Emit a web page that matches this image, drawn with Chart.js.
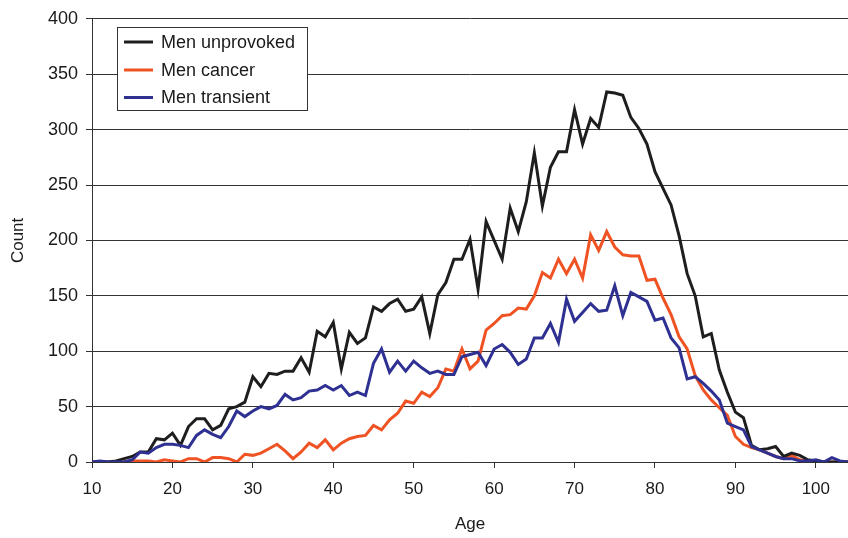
<!DOCTYPE html>
<html>
<head>
<meta charset="utf-8">
<script src="https://cdn.jsdelivr.net/npm/chart.js@4.4.1/dist/chart.umd.min.js"></script>
<style>
  html, body { margin: 0; padding: 0; background: #ffffff; }
  #wrap { width: 848px; height: 538px; position: relative; }
</style>
</head>
<body>
<div id="wrap"><canvas id="c" width="848" height="538"></canvas></div>
<script>
// Ages 10..104
const ages = [];
for (let a = 10; a <= 104; a++) ages.push(a);

const seriesNames = ['Men unprovoked', 'Men cancer', 'Men transient'];

const menUnprovoked = [
  0, 0, 0, 1, 3, 5, 9, 9, 21, 20,
  26, 15, 32, 39, 39, 29, 33, 48, 50, 54,
  77, 68, 80, 79, 82, 82, 94, 81, 118, 113,
  126, 84, 117, 107, 112, 140, 136, 143, 147, 136,
  138, 149, 116, 151, 162, 183, 183, 201, 156, 217,
  200, 183, 229, 208, 235, 279, 231, 266, 280, 280,
  318, 287, 310, 302, 334, 333, 331, 311, 301, 287,
  262, 247, 232, 204, 170, 150, 113, 116, 83, 63,
  45, 40, 15, 11, 12, 14, 5, 8, 6, 2,
  1, 0, 0, 0, 0
];

const menCancer = [
  0, 0, 0, 0, 0, 1, 1, 1, 0, 2,
  1, 0, 3, 3, 0, 4, 4, 3, 0, 7,
  6, 8, 12, 16, 10, 3, 9, 17, 13, 20,
  11, 17, 21, 23, 24, 33, 29, 38, 44, 55,
  53, 63, 59, 67, 84, 82, 102, 84, 91, 119,
  125, 132, 133, 139, 138, 150, 171, 166, 183, 170,
  183, 166, 205, 191, 208, 194, 187, 186, 186, 164,
  165, 148, 133, 113, 102, 78, 65, 56, 49, 42,
  23, 16, 13, 11, 8, 5, 3, 6, 2, 0,
  1, 0, 0, 0, 0
];

const menTransient = [
  0, 1, 0, 0, 0, 2, 9, 8, 13, 16,
  16, 15, 13, 24, 29, 25, 22, 32, 46, 41,
  46, 50, 48, 51, 61, 56, 58, 64, 65, 69,
  65, 69, 60, 63, 60, 89, 102, 81, 91, 82,
  91, 85, 80, 82, 79, 79, 95, 97, 99, 87,
  102, 106, 99, 88, 93, 112, 112, 125, 108, 147,
  127, 135, 143, 136, 137, 159, 132, 153, 149, 145,
  128, 130, 112, 103, 75, 77, 71, 64, 56, 35,
  32, 29, 14, 11, 8, 5, 3, 3, 1, 1,
  2, 0, 4, 1, 0
];

const xTickValues = [10, 20, 30, 40, 50, 60, 70, 80, 90, 100];
const yTickValues = [0, 50, 100, 150, 200, 250, 300, 350, 400];

const colors = ['#1e1e1e', '#f05323', '#2e3192'];
const FONT = "'Liberation Sans', Arial, Helvetica, sans-serif";
const AXIS = '#333333';

function toPoints(vals) { return ages.map((a, i) => ({ x: a, y: vals[i] })); }

const legendPlugin = {
  id: 'boxLegend',
  afterDatasetsDraw(chart) {
    const ctx = chart.ctx;
    ctx.save();
    const bx = 117.5, by = 27.5, bw = 190, bh = 83;
    ctx.fillStyle = '#ffffff';
    ctx.fillRect(bx, by, bw, bh);
    ctx.strokeStyle = AXIS;
    ctx.lineWidth = 1;
    ctx.strokeRect(bx, by, bw, bh);
    const rows = [42, 70, 97.5];
    ctx.font = '18px ' + FONT;
    ctx.textBaseline = 'middle';
    ctx.textAlign = 'left';
    seriesNames.forEach((name, i) => {
      ctx.strokeStyle = colors[i];
      ctx.lineWidth = 3;
      ctx.beginPath();
      ctx.moveTo(124, rows[i]);
      ctx.lineTo(153, rows[i]);
      ctx.stroke();
      ctx.fillStyle = '#1a1a1a';
      ctx.fillText(name, 161, rows[i] + 1);
    });
    ctx.restore();
  }
};

new Chart(document.getElementById('c'), {
  type: 'line',
  data: {
    datasets: [
      { label: seriesNames[0], data: toPoints(menUnprovoked), borderColor: colors[0], order: 1 },
      { label: seriesNames[1], data: toPoints(menCancer), borderColor: colors[1], order: 2 },
      { label: seriesNames[2], data: toPoints(menTransient), borderColor: colors[2], order: 0 }
    ]
  },
  options: {
    responsive: false,
    animation: false,
    devicePixelRatio: 1,
    layout: { padding: { top: 16, right: 0, left: 0, bottom: 0 } },
    elements: {
      point: { radius: 0 },
      line: { borderWidth: 3, tension: 0, fill: false, borderJoinStyle: 'miter', borderCapStyle: 'butt' }
    },
    plugins: { legend: { display: false }, tooltip: { enabled: false } },
    scales: {
      x: {
        type: 'linear',
        min: 10,
        max: 104,
        afterBuildTicks: (s) => { s.ticks = xTickValues.map(v => ({ value: v })); },
        afterFit: (s) => { s.height = 76; },
        grid: { drawOnChartArea: false, drawTicks: true, tickLength: 6, color: AXIS, lineWidth: 1 },
        border: { display: true, color: AXIS, width: 1 },
        ticks: { font: { family: FONT, size: 17 }, color: '#1a1a1a', padding: 11, maxRotation: 0, autoSkip: false },
        title: { display: true, text: 'Age', font: { family: FONT, size: 17 }, color: '#1a1a1a', padding: { top: 0, bottom: 3 } }
      },
      y: {
        min: 0,
        max: 400,
        afterBuildTicks: (s) => { s.ticks = yTickValues.map(v => ({ value: v })); },
        afterFit: (s) => { s.width = 92; },
        grid: { drawOnChartArea: true, drawTicks: true, tickLength: 6, color: AXIS, lineWidth: 1 },
        border: { display: true, color: AXIS, width: 1 },
        ticks: { font: { family: FONT, size: 18 }, color: '#1a1a1a', padding: 8 },
        title: { display: true, text: 'Count', font: { family: FONT, size: 17 }, color: '#1a1a1a', padding: { top: 8, bottom: 0 } }
      }
    }
  },
  plugins: [legendPlugin]
});
</script>
</body>
</html>
